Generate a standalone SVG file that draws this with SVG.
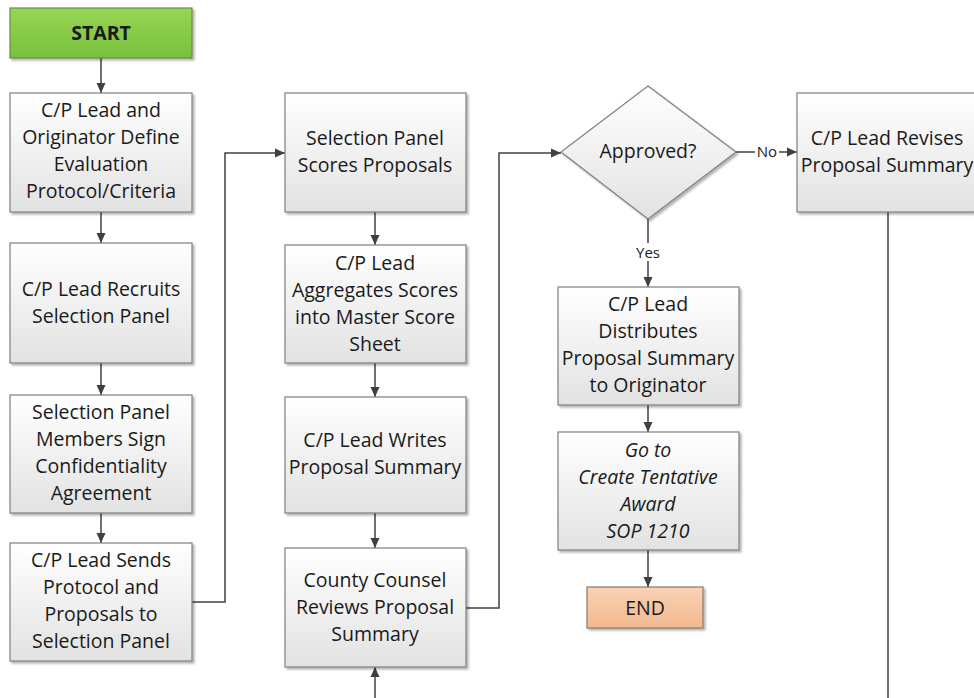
<svg xmlns="http://www.w3.org/2000/svg" width="974" height="698" viewBox="0 0 974 698">
  <defs>
    <linearGradient id="gBox" x1="0" y1="0" x2="0" y2="1">
      <stop offset="0" stop-color="#ffffff"/>
      <stop offset="1" stop-color="#e2e2e2"/>
    </linearGradient>
    <linearGradient id="gStart" x1="0" y1="0" x2="0" y2="1">
      <stop offset="0" stop-color="#97d655"/>
      <stop offset="1" stop-color="#78c03c"/>
    </linearGradient>
    <linearGradient id="gEnd" x1="0" y1="0" x2="0" y2="1">
      <stop offset="0" stop-color="#f9d2b6"/>
      <stop offset="1" stop-color="#f2b88e"/>
    </linearGradient>
    <filter id="shadow" x="-10%" y="-10%" width="130%" height="130%">
      <feDropShadow dx="2" dy="2" stdDeviation="1.2" flood-color="#000" flood-opacity="0.3"/>
    </filter>
    <marker id="arrow" markerUnits="userSpaceOnUse" markerWidth="11" markerHeight="10" refX="10" refY="5" orient="auto">
      <path d="M0,0.5 L10,5 L0,9.5 z" fill="#404040"/>
    </marker>
  </defs>
  <style>
    .box { fill: url(#gBox); stroke: #7f7f7f; stroke-width: 1.2; filter: url(#shadow); }
    .start { fill: url(#gStart); stroke: #6a8a4a; stroke-width: 1.2; filter: url(#shadow); }
    .end { fill: url(#gEnd); stroke: #8a7a6a; stroke-width: 1.2; filter: url(#shadow); }
    text { font-family: "Open Sans", "Liberation Sans", sans-serif; font-size: 19.5px; fill: #1a1a1a; text-anchor: middle; }
    .bold { font-weight: bold; }
    .it { font-style: italic; }
    .lbl { font-size: 15px; }
    .conn path, .conn line { fill: none; stroke: #404040; stroke-width: 1.5; }
  </style>

  <!-- connectors -->
  <g id="connectors" class="conn">
    <line x1="101" y1="58" x2="101" y2="93" marker-end="url(#arrow)"/>
    <line x1="101" y1="212" x2="101" y2="243" marker-end="url(#arrow)"/>
    <line x1="101" y1="363" x2="101" y2="395" marker-end="url(#arrow)"/>
    <line x1="101" y1="513" x2="101" y2="543" marker-end="url(#arrow)"/>
    <path d="M192,602 H225 V153 H285" marker-end="url(#arrow)"/>
    <line x1="375" y1="212" x2="375" y2="245" marker-end="url(#arrow)"/>
    <line x1="375" y1="363" x2="375" y2="397" marker-end="url(#arrow)"/>
    <line x1="375" y1="513" x2="375" y2="548" marker-end="url(#arrow)"/>
    <line x1="375" y1="698" x2="375" y2="667" marker-end="url(#arrow)"/>
    <path d="M466,608 H499 V153 H561" marker-end="url(#arrow)"/>
    <line x1="736" y1="152" x2="797" y2="152" marker-end="url(#arrow)"/>
    <line x1="648" y1="219" x2="648" y2="287" marker-end="url(#arrow)"/>
    <line x1="648" y1="405" x2="648" y2="432" marker-end="url(#arrow)"/>
    <line x1="648" y1="550" x2="648" y2="587" marker-end="url(#arrow)"/>
    <line x1="888" y1="212" x2="888" y2="698"/>
    <rect x="755" y="143" width="24" height="18" fill="#ffffff" stroke="none"/>
    <text class="lbl" x="767" y="157">No</text>
    <rect x="633" y="243" width="30" height="18" fill="#ffffff" stroke="none"/>
    <text class="lbl" x="648" y="258">Yes</text>
  </g>

  <g id="start">
    <rect class="start" x="10" y="8" width="182" height="50"/>
    <text class="bold" x="101" y="40">START</text>
  </g>

  <g id="define-protocol">
    <rect class="box" x="10" y="93" width="182" height="119"/>
    <text x="101" y="117">C/P Lead and</text>
    <text x="101" y="144">Originator Define</text>
    <text x="101" y="171">Evaluation</text>
    <text x="101" y="198">Protocol/Criteria</text>
  </g>

  <g id="recruit-panel">
    <rect class="box" x="10" y="243" width="182" height="120"/>
    <text x="101" y="296">C/P Lead Recruits</text>
    <text x="101" y="323">Selection Panel</text>
  </g>

  <g id="sign-agreement">
    <rect class="box" x="10" y="395" width="182" height="118"/>
    <text x="101" y="419">Selection Panel</text>
    <text x="101" y="446">Members Sign</text>
    <text x="101" y="473">Confidentiality</text>
    <text x="101" y="500">Agreement</text>
  </g>

  <g id="send-protocol">
    <rect class="box" x="10" y="543" width="182" height="118"/>
    <text x="101" y="567">C/P Lead Sends</text>
    <text x="101" y="594">Protocol and</text>
    <text x="101" y="621">Proposals to</text>
    <text x="101" y="648">Selection Panel</text>
  </g>

  <g id="score-proposals">
    <rect class="box" x="285" y="93" width="181" height="119"/>
    <text x="375" y="145">Selection Panel</text>
    <text x="375" y="172">Scores Proposals</text>
  </g>

  <g id="aggregate-scores">
    <rect class="box" x="285" y="245" width="181" height="118"/>
    <text x="375" y="270">C/P Lead</text>
    <text x="375" y="297">Aggregates Scores</text>
    <text x="375" y="324">into Master Score</text>
    <text x="375" y="351">Sheet</text>
  </g>

  <g id="write-summary">
    <rect class="box" x="285" y="397" width="181" height="116"/>
    <text x="375" y="447">C/P Lead Writes</text>
    <text x="375" y="474">Proposal Summary</text>
  </g>

  <g id="counsel-review">
    <rect class="box" x="285" y="548" width="181" height="119"/>
    <text x="375" y="587">County Counsel</text>
    <text x="375" y="614">Reviews Proposal</text>
    <text x="375" y="641">Summary</text>
  </g>

  <g id="approved">
    <polygon class="box" points="648,86 736,152 648,219 561,152"/>
    <text x="648" y="158">Approved?</text>
  </g>

  <g id="revise-summary">
    <rect class="box" x="797" y="93" width="183" height="119"/>
    <text x="887" y="145">C/P Lead Revises</text>
    <text x="887" y="172">Proposal Summary</text>
  </g>

  <g id="distribute-summary">
    <rect class="box" x="558" y="287" width="181" height="118"/>
    <text x="648" y="311">C/P Lead</text>
    <text x="648" y="338">Distributes</text>
    <text x="648" y="365">Proposal Summary</text>
    <text x="648" y="392">to Originator</text>
  </g>

  <g id="goto-award">
    <rect class="box" x="558" y="432" width="181" height="118"/>
    <text class="it" x="648" y="457">Go to</text>
    <text class="it" x="648" y="484">Create Tentative</text>
    <text class="it" x="648" y="511">Award</text>
    <text class="it" x="648" y="538">SOP 1210</text>
  </g>

  <g id="end">
    <rect class="end" x="587" y="587" width="116" height="41"/>
    <text x="645" y="615">END</text>
  </g>
</svg>
